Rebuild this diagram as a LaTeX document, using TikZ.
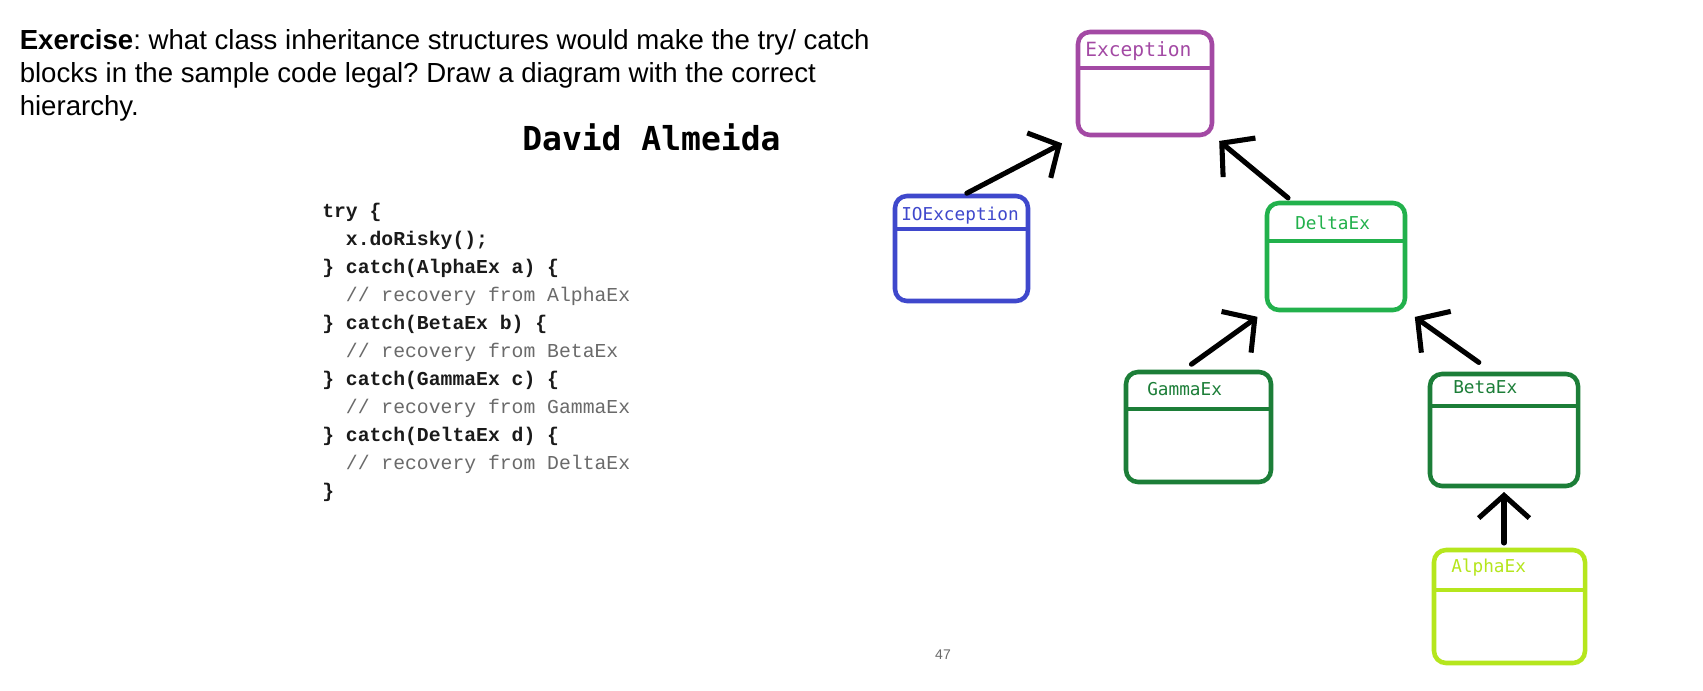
\documentclass[tikz,border=0pt]{standalone}
\usepackage{fontspec}
\setmainfont{Liberation Sans}
\newfontfamily\boxfont{DejaVu Sans Mono}
\newfontfamily\codefont{Liberation Mono}
\usetikzlibrary{arrows.meta}
\frenchspacing

\definecolor{exccol}{HTML}{A349A4}
\definecolor{iocol}{HTML}{3F48CC}
\definecolor{deltacol}{HTML}{22B14C}
\definecolor{darkcol}{HTML}{1C7E38}
\definecolor{alphacol}{HTML}{B5E61D}
\definecolor{codecol}{HTML}{1A1A1A}
\definecolor{cmtcol}{HTML}{6A6A6A}

\tikzset{
  classbox/.style={draw, line width=3.4pt, rounded corners=9pt, inner sep=0pt, outer sep=0pt},
  divider/.style={line width=3.4pt},
  classname/.style={font=\boxfont\fontsize{13.3}{15}\selectfont, inner sep=0pt, anchor=base west},
  inh/.style={line width=3.8pt, line cap=round, -{Straight Barb[length=17pt,width=38pt]}},
  codeln/.style={font=\codefont\bfseries\fontsize{14.8}{17}\selectfont, text=codecol, inner sep=0pt, anchor=base west},
  cmtln/.style={font=\codefont\fontsize{14.8}{17}\selectfont, text=cmtcol, inner sep=0pt, anchor=base west},
  headln/.style={font=\fontsize{20.7}{24}\selectfont, inner sep=0pt, anchor=base west}
}

\begin{document}
\begin{tikzpicture}[x=0.75pt, y=-0.75pt]
  \fill[white] (0,0) rectangle (1703,690);
  \useasboundingbox (0,0) rectangle (1703,690);

  % question
  \node[headln] (q1) at (19.5,49) {\textbf{Exercise}: what class inheritance structures would make the try/ catch};
  \node[headln] (q2) at (19.5,82.5) {blocks in the sample code legal? Draw a diagram with the correct};
  \node[headln] (q3) at (19.5,115) {hierarchy.};
  \node[font=\boxfont\bfseries\fontsize{24.75}{28}\selectfont, inner sep=0pt, anchor=base west] (name) at (522,150) {David Almeida};

  % sample code
  \node[codeln] (c0) at (322,217) {try \{};
  \node[codeln] (c1) at (322,245) {\ \ x.doRisky();};
  \node[codeln] (c2) at (322,273) {\} catch(AlphaEx a) \{};
  \node[cmtln]  (c3) at (322,301) {\ \ // recovery from AlphaEx};
  \node[codeln] (c4) at (322,329) {\} catch(BetaEx b) \{};
  \node[cmtln]  (c5) at (322,357) {\ \ // recovery from BetaEx};
  \node[codeln] (c6) at (322,385) {\} catch(GammaEx c) \{};
  \node[cmtln]  (c7) at (322,413) {\ \ // recovery from GammaEx};
  \node[codeln] (c8) at (322,441) {\} catch(DeltaEx d) \{};
  \node[cmtln]  (c9) at (322,469) {\ \ // recovery from DeltaEx};
  \node[codeln] (c10) at (322,497) {\}};

  % classes
  \node[classbox, exccol, minimum width=100.5pt, minimum height=77.25pt] (exc) at (1145,83.5) {};
  \node[classbox, iocol, minimum width=99.75pt, minimum height=78.75pt] (io) at (961.5,248.5) {};
  \node[classbox, deltacol, minimum width=103.5pt, minimum height=80.25pt] (delta) at (1336,256.5) {};
  \node[classbox, darkcol, minimum width=108.75pt, minimum height=82.5pt] (gamma) at (1198.5,427) {};
  \node[classbox, darkcol, minimum width=111pt, minimum height=84pt] (beta) at (1504,430) {};
  \node[classbox, alphacol, minimum width=113.25pt, minimum height=84.75pt] (alpha) at (1509.5,606.5) {};

  \draw[divider, exccol] (exc.west |- 0,68) -- (exc.east |- 0,68);
  \draw[divider, iocol] (io.west |- 0,229) -- (io.east |- 0,229);
  \draw[divider, deltacol] (delta.west |- 0,241) -- (delta.east |- 0,241);
  \draw[divider, darkcol] (gamma.west |- 0,409) -- (gamma.east |- 0,409);
  \draw[divider, darkcol] (beta.west |- 0,406) -- (beta.east |- 0,406);
  \draw[divider, alphacol] (alpha.west |- 0,590) -- (alpha.east |- 0,590);

  \node[classname, text=exccol, font=\boxfont\fontsize{14.7}{16}\selectfont] (exct) at (1085,56) {Exception};
  \node[classname, text=iocol] (iot) at (901,220) {IOException};
  \node[classname, text=deltacol] (deltat) at (1295,229) {DeltaEx};
  \node[classname, text=darkcol] (gammat) at (1147,395) {GammaEx};
  \node[classname, text=darkcol] (betat) at (1453,393) {BetaEx};
  \node[classname, text=alphacol] (alphat) at (1451,572) {AlphaEx};

  % inheritance
  \draw[inh, shorten <=4.5pt, shorten >=13.5pt] (io.north) -- (exc.south west);
  \draw[inh, shorten <=6pt, shorten >=7pt] (delta.128) -- (exc.south east);
  \draw[inh, shorten <=10pt, shorten >=8.8pt] (gamma.108) -- (delta.south west);
  \draw[inh, shorten <=15pt, shorten >=9pt] (beta.99) -- (delta.south east);
  \draw[inh, shorten <=5.25pt, shorten >=4.5pt] (alpha.north -| beta.south) -- (beta.south);

  \node[font=\fontsize{10.5}{12}\selectfont, text=cmtcol, inner sep=0pt] (page) at (943,655) {47};
\end{tikzpicture}
\end{document}
